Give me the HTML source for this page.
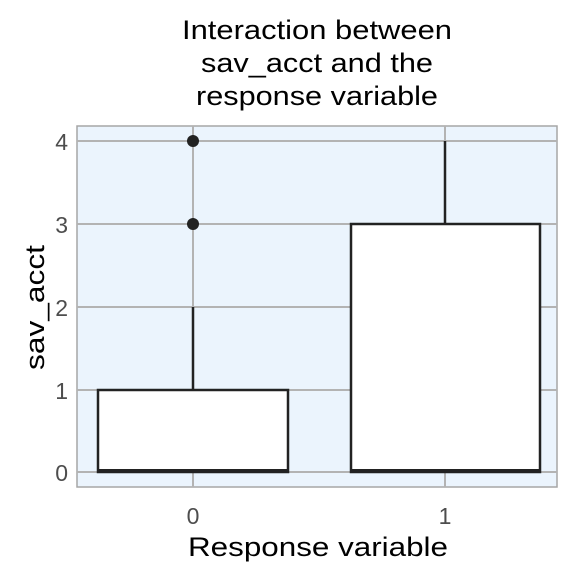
<!DOCTYPE html>
<html><head><style>body{margin:0;background:#fff}svg{display:block}</style></head><body>
<svg width="576" height="576" xmlns="http://www.w3.org/2000/svg" font-family="Liberation Sans, sans-serif">
<rect x="77" y="126" width="480" height="361" fill="#ebf4fd" stroke="#a6a6a6" stroke-width="1.5"/>
<g stroke="#b3b3b3" stroke-width="2">
<line x1="77" x2="557" y1="141" y2="141"/><line x1="77" x2="557" y1="224" y2="224"/>
<line x1="77" x2="557" y1="307" y2="307"/><line x1="77" x2="557" y1="390" y2="390"/>
<line x1="77" x2="557" y1="472" y2="472"/>
<line x1="193" x2="193" y1="126" y2="487"/><line x1="445" x2="445" y1="126" y2="487"/>
</g>
<g stroke="#222" stroke-width="2.5" fill="#fff">
<line x1="193" x2="193" y1="307" y2="390"/>
<rect x="98" y="390" width="190" height="82"/>
<line x1="98" x2="288" y1="471" y2="471" stroke-width="4"/>
<line x1="445" x2="445" y1="141" y2="224"/>
<rect x="351" y="224" width="189" height="248"/>
<line x1="351" x2="540" y1="471" y2="471" stroke-width="4"/>
</g>
<circle cx="193" cy="141" r="6" fill="#222"/><circle cx="193" cy="224" r="6" fill="#222"/>
<g fill="#4d4d4d" font-size="23" text-anchor="end">
<text x="68" y="150">4</text><text x="68" y="233">3</text><text x="68" y="316">2</text><text x="68" y="399">1</text><text x="68" y="481">0</text>
</g>
<g fill="#4d4d4d" font-size="23" text-anchor="middle">
<text x="193" y="524">0</text><text x="445" y="524">1</text>
</g>
<text x="188" y="556" font-size="27" textLength="260" lengthAdjust="spacingAndGlyphs" fill="#000">Response variable</text>
<text transform="translate(44,370) rotate(-90)" font-size="27" textLength="125" lengthAdjust="spacingAndGlyphs" fill="#000">sav_acct</text>
<g font-size="27" fill="#000">
<text x="182" y="39" textLength="270" lengthAdjust="spacingAndGlyphs">Interaction between</text>
<text x="201" y="72" textLength="232" lengthAdjust="spacingAndGlyphs">sav_acct and the</text>
<text x="196" y="105" textLength="242" lengthAdjust="spacingAndGlyphs">response variable</text>
</g>
</svg>
</body></html>
